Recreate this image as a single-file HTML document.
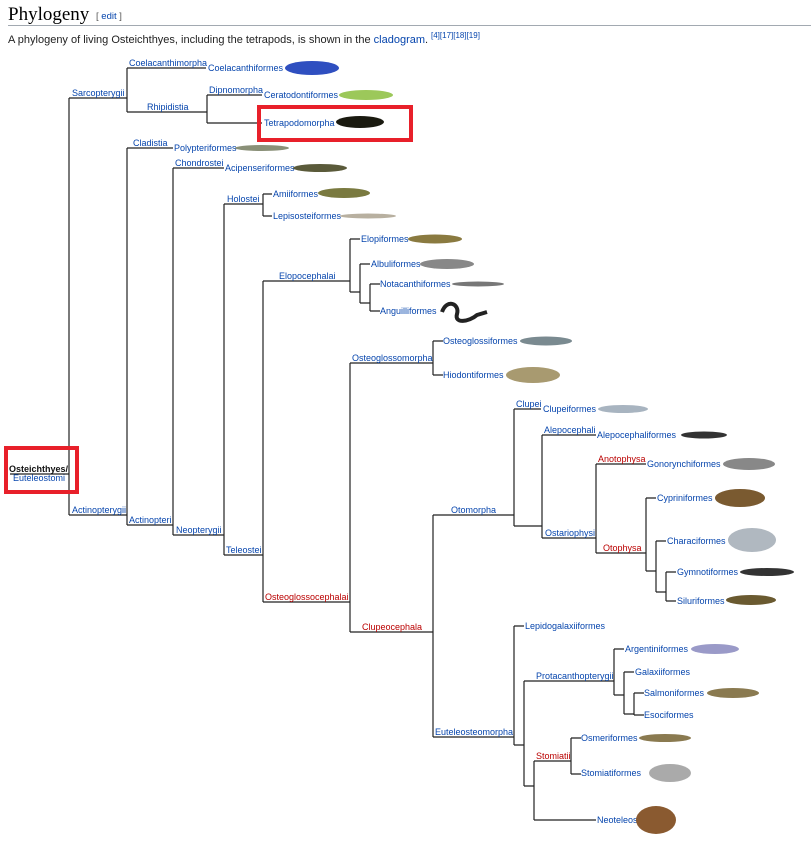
<!DOCTYPE html>
<html><head><meta charset="utf-8"><style>
body{margin:0;background:#fff;width:811px;height:843px;overflow:hidden;font-family:"Liberation Sans",Arial,sans-serif}
svg text{font-family:"Liberation Sans",Arial,sans-serif;font-size:9px}
</style></head><body>
<svg width="811" height="843" viewBox="0 0 811 843" xmlns="http://www.w3.org/2000/svg">
<text x="8" y="20" style="font-family:'Liberation Serif',serif;font-size:19px" fill="#000">Phylogeny</text>
<text x="96" y="19" style="font-size:9.5px" fill="#555">[ <tspan fill="#0645ad">edit</tspan> ]</text>
<line x1="8" y1="25.5" x2="811" y2="25.5" stroke="#a2a9b1"/>
<text x="8" y="43" style="font-size:11px" fill="#222">A phylogeny of living Osteichthyes, including the tetrapods, is shown in the <tspan fill="#0645ad">cladogram</tspan>.</text>
<text x="431" y="38" style="font-size:8px" fill="#0645ad">[4][17][18][19]</text>

<g stroke="#222" stroke-width="1.2" fill="none">
<path d="M10 474H69M69 98V515M69 98H127M127 68V112M127 68H206M127 112H207M207 95V123M207 95H262M207 123H262"/>
<path d="M69 515H127M127 148V525M127 148H173M127 525H173M173 168V535M173 168H224M173 535H224M224 204V555M224 204H263M263 194V216M263 194H272M263 216H272"/>
<path d="M224 555H263M263 281V602M263 281H350M350 239V292M350 239H360M350 292H360M360 264V303M360 264H370M360 303H370M370 284V311M370 284H380M370 311H380"/>
<path d="M263 602H350M350 363V632M350 363H433M433 341V375M433 341H443M433 375H443M350 632H433M433 515V737"/>
<path d="M433 515H514M514 409V526M514 409H541M514 526H542M542 435V538M542 435H596M542 538H596M596 464V553M596 464H646M596 553H646M646 498V571M646 498H656M646 571H656M656 541V592M656 541H666M656 592H666M666 572V601M666 572H676M666 601H676"/>
<path d="M433 737H514M514 626V745M514 626H524M514 745H524M524 681V786M524 681H614M614 649V695M614 649H624M614 695H624M624 672V714M624 672H634M624 714H634M634 693V715M634 693H644M634 715H644M524 786H534M534 761V820M534 761H571M571 738V774M571 738H581M571 774H581M534 820H596"/>
</g>

<g fill="#0645ad">
<text x="9" y="472" fill="#111" style="font-weight:bold">Osteichthyes/</text>
<text x="13" y="481">Euteleostomi</text>
<text x="72" y="96">Sarcopterygii</text>
<text x="129" y="66">Coelacanthimorpha</text>
<text x="208" y="71">Coelacanthiformes</text>
<text x="147" y="110">Rhipidistia</text>
<text x="209" y="93">Dipnomorpha</text>
<text x="264" y="98">Ceratodontiformes</text>
<text x="264" y="126">Tetrapodomorpha</text>
<text x="72" y="513">Actinopterygii</text>
<text x="133" y="146">Cladistia</text>
<text x="174" y="151">Polypteriformes</text>
<text x="129" y="523">Actinopteri</text>
<text x="175" y="166">Chondrostei</text>
<text x="225" y="171">Acipenseriformes</text>
<text x="176" y="533">Neopterygii</text>
<text x="227" y="202">Holostei</text>
<text x="273" y="197">Amiiformes</text>
<text x="273" y="219">Lepisosteiformes</text>
<text x="226" y="553">Teleostei</text>
<text x="279" y="279">Elopocephalai</text>
<text x="361" y="242">Elopiformes</text>
<text x="371" y="267">Albuliformes</text>
<text x="380" y="287">Notacanthiformes</text>
<text x="380" y="314">Anguilliformes</text>
<text x="265" y="600" fill="#ba0000">Osteoglossocephalai</text>
<text x="352" y="361">Osteoglossomorpha</text>
<text x="443" y="344">Osteoglossiformes</text>
<text x="443" y="378">Hiodontiformes</text>
<text x="362" y="630" fill="#ba0000">Clupeocephala</text>
<text x="451" y="513">Otomorpha</text>
<text x="516" y="407">Clupei</text>
<text x="543" y="412">Clupeiformes</text>
<text x="544" y="433">Alepocephali</text>
<text x="597" y="438">Alepocephaliformes</text>
<text x="545" y="536">Ostariophysi</text>
<text x="598" y="462" fill="#ba0000">Anotophysa</text>
<text x="647" y="467">Gonorynchiformes</text>
<text x="603" y="551" fill="#ba0000">Otophysa</text>
<text x="657" y="501">Cypriniformes</text>
<text x="667" y="544">Characiformes</text>
<text x="677" y="575">Gymnotiformes</text>
<text x="677" y="604">Siluriformes</text>
<text x="435" y="735">Euteleosteomorpha</text>
<text x="525" y="629">Lepidogalaxiiformes</text>
<text x="536" y="679">Protacanthopterygii</text>
<text x="625" y="652">Argentiniformes</text>
<text x="635" y="675">Galaxiiformes</text>
<text x="644" y="696">Salmoniformes</text>
<text x="644" y="718">Esociformes</text>
<text x="536" y="759" fill="#ba0000">Stomiatii</text>
<text x="581" y="741">Osmeriformes</text>
<text x="581" y="776">Stomiatiformes</text>
<text x="597" y="823">Neoteleostei</text>
</g>

<g>
<ellipse cx="312" cy="68" rx="27" ry="7" fill="#2f4fc0"/>
<ellipse cx="366" cy="95" rx="27" ry="5" fill="#9cc85a"/>
<ellipse cx="360" cy="122" rx="24" ry="6" fill="#1a1a10"/>
<ellipse cx="262" cy="148" rx="27" ry="3" fill="#8a9078"/>
<ellipse cx="320" cy="168" rx="27" ry="4" fill="#5a5a3a"/>
<ellipse cx="344" cy="193" rx="26" ry="5" fill="#7a7a40"/>
<ellipse cx="368" cy="216" rx="28" ry="2.5" fill="#b8b0a0"/>
<ellipse cx="435" cy="239" rx="27" ry="4.5" fill="#8a7a40"/>
<ellipse cx="447" cy="264" rx="27" ry="5" fill="#888"/>
<ellipse cx="478" cy="284" rx="26" ry="2.5" fill="#777"/>
<path d="M442 312c5-14 18-8 15 2s12 8 20 1l10-3" stroke="#222" stroke-width="4" fill="none"/>
<ellipse cx="546" cy="341" rx="26" ry="4.5" fill="#7a8a90"/>
<ellipse cx="533" cy="375" rx="27" ry="8" fill="#a89a70"/>
<ellipse cx="623" cy="409" rx="25" ry="4" fill="#a8b4c0"/>
<ellipse cx="704" cy="435" rx="23" ry="3.5" fill="#333"/>
<ellipse cx="749" cy="464" rx="26" ry="6" fill="#888"/>
<ellipse cx="740" cy="498" rx="25" ry="9" fill="#7a5a30"/>
<ellipse cx="752" cy="540" rx="24" ry="12" fill="#b0b8c0"/>
<ellipse cx="767" cy="572" rx="27" ry="4" fill="#333"/>
<ellipse cx="751" cy="600" rx="25" ry="5" fill="#6a5a30"/>
<ellipse cx="715" cy="649" rx="24" ry="5" fill="#9a9ac8"/>
<ellipse cx="733" cy="693" rx="26" ry="5" fill="#8a7a50"/>
<ellipse cx="665" cy="738" rx="26" ry="4" fill="#8a7a50"/>
<ellipse cx="670" cy="773" rx="21" ry="9" fill="#aaa"/>
<ellipse cx="656" cy="820" rx="20" ry="14" fill="#8a5a30"/>
</g>

<rect x="259" y="107" width="152" height="33" fill="none" stroke="#e8202a" stroke-width="4"/>
<rect x="6" y="448" width="71" height="44" fill="none" stroke="#e8202a" stroke-width="4"/>
</svg>
</body></html>
